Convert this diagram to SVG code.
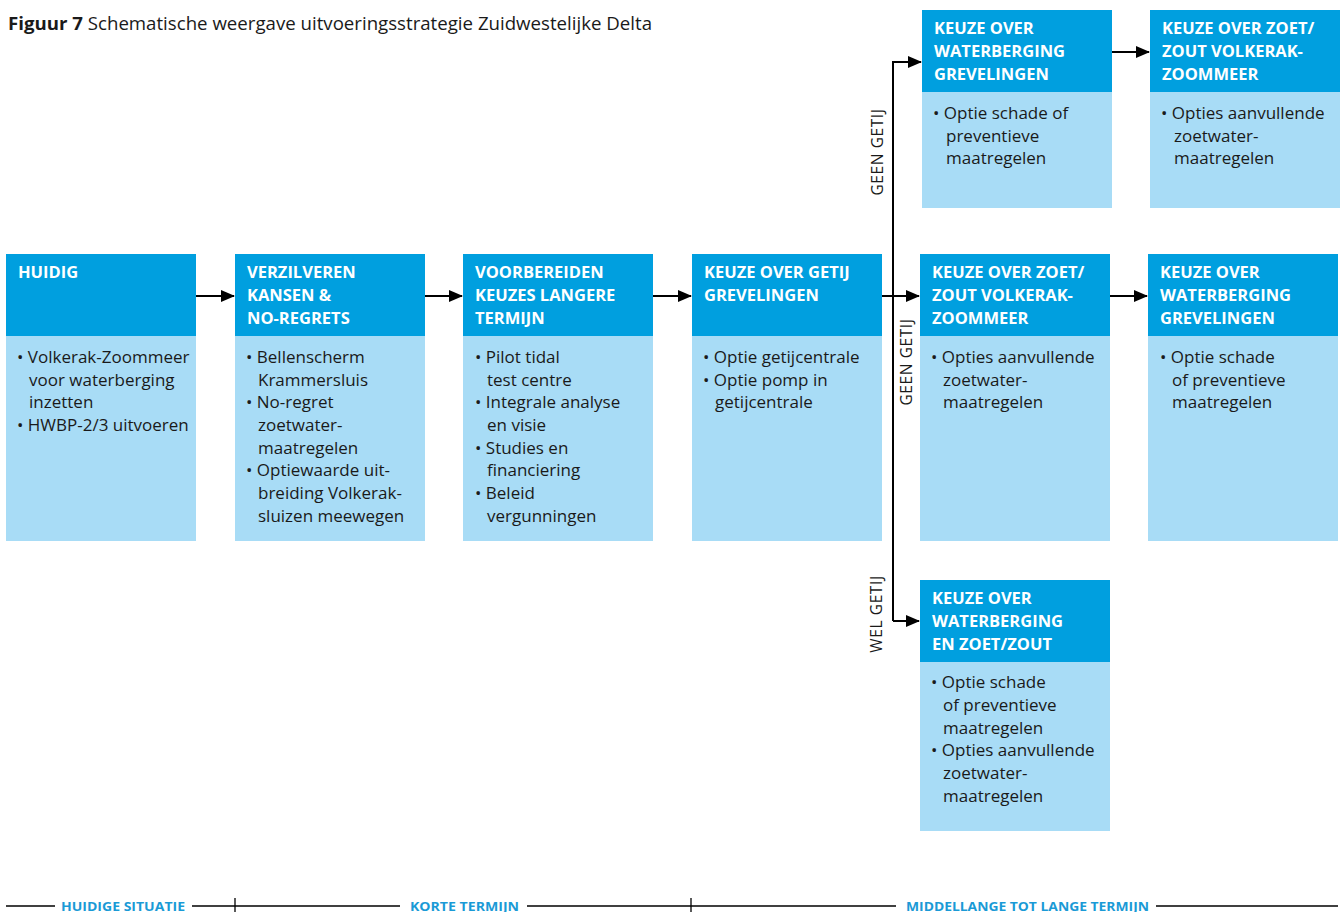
<svg xmlns="http://www.w3.org/2000/svg" width="1343" height="912" viewBox="0 0 1343 912">
<style>
.hd{fill:#009fdf}
.bd{fill:#a8dcf6}
.ht{font-family:"Open Sans","Noto Sans",sans-serif;font-weight:700;font-size:16.5px;fill:#ffffff}
.bt{font-family:"Open Sans","Noto Sans",sans-serif;font-size:17px;fill:#1a1a1a}
.title{font-family:"Open Sans","Noto Sans",sans-serif;font-size:18px;fill:#1a1a1a}
.lbl{font-family:"Open Sans","Noto Sans",sans-serif;font-size:15.5px;fill:#1a1a1a;letter-spacing:0.6px}
.tl{font-family:"Open Sans","Noto Sans",sans-serif;font-weight:700;font-size:13px;fill:#1a9ad6}
.ln{stroke:#000;stroke-width:2;fill:none}
.tln{stroke:#000;stroke-width:1.3;fill:none}
</style>
<defs>
<marker id="ah" markerWidth="14" markerHeight="12" refX="13" refY="6" orient="auto" markerUnits="userSpaceOnUse">
<path d="M0,0 L14,6 L0,12 Z" fill="#000"/>
</marker>
</defs>
<rect width="1343" height="912" fill="#fff"/>
<text class="title" x="8" y="30" textLength="644" lengthAdjust="spacingAndGlyphs"><tspan font-weight="700">Figuur 7</tspan> Schematische weergave uitvoeringsstrategie Zuidwestelijke Delta</text>

<g id="connectors">
<line class="ln" x1="196" y1="296" x2="234" y2="296" marker-end="url(#ah)"/>
<line class="ln" x1="425" y1="296" x2="462" y2="296" marker-end="url(#ah)"/>
<line class="ln" x1="653" y1="296" x2="691" y2="296" marker-end="url(#ah)"/>
<line class="ln" x1="882" y1="296" x2="919" y2="296" marker-end="url(#ah)"/>
<line class="ln" x1="1110" y1="296" x2="1147" y2="296" marker-end="url(#ah)"/>
<line class="ln" x1="1112" y1="52" x2="1149" y2="52" marker-end="url(#ah)"/>
<path class="ln" d="M893,621 L893,62 L921,62" marker-end="url(#ah)"/>
<path class="ln" d="M893,621 L919,621" marker-end="url(#ah)"/>
<text class="lbl" transform="translate(883,152) rotate(-90)" text-anchor="middle">GEEN GETIJ</text>
<text class="lbl" transform="translate(912,362) rotate(-90)" text-anchor="middle">GEEN GETIJ</text>
<text class="lbl" transform="translate(882,614) rotate(-90)" text-anchor="middle">WEL GETIJ</text>
</g>

<g id="huidig">
<rect class="hd" x="6" y="254" width="190" height="82"/>
<rect class="bd" x="6" y="336" width="190" height="205"/>
<text class="ht" x="18" y="278">HUIDIG</text>
<text class="bt"><tspan x="17" y="363">• Volkerak-Zoommeer</tspan><tspan x="29" y="386">voor waterberging</tspan><tspan x="29" y="408">inzetten</tspan><tspan x="17" y="431">• HWBP-2/3 uitvoeren</tspan></text>
</g>

<g id="verzilveren">
<rect class="hd" x="235" y="254" width="190" height="82"/>
<rect class="bd" x="235" y="336" width="190" height="205"/>
<text class="ht"><tspan x="247" y="278">VERZILVEREN</tspan><tspan x="247" y="301">KANSEN &amp;</tspan><tspan x="247" y="324">NO-REGRETS</tspan></text>
<text class="bt"><tspan x="246" y="363">• Bellenscherm</tspan><tspan x="258" y="386">Krammersluis</tspan><tspan x="246" y="408">• No-regret</tspan><tspan x="258" y="431">zoetwater-</tspan><tspan x="258" y="454">maatregelen</tspan><tspan x="246" y="476">• Optiewaarde uit-</tspan><tspan x="258" y="499">breiding Volkerak-</tspan><tspan x="258" y="522">sluizen meewegen</tspan></text>
</g>

<g id="voorbereiden">
<rect class="hd" x="463" y="254" width="190" height="82"/>
<rect class="bd" x="463" y="336" width="190" height="205"/>
<text class="ht"><tspan x="475" y="278">VOORBEREIDEN</tspan><tspan x="475" y="301">KEUZES LANGERE</tspan><tspan x="475" y="324">TERMIJN</tspan></text>
<text class="bt"><tspan x="475" y="363">• Pilot tidal</tspan><tspan x="487" y="386">test centre</tspan><tspan x="475" y="408">• Integrale analyse</tspan><tspan x="487" y="431">en visie</tspan><tspan x="475" y="454">• Studies en</tspan><tspan x="487" y="476">financiering</tspan><tspan x="475" y="499">• Beleid</tspan><tspan x="487" y="522">vergunningen</tspan></text>
</g>

<g id="keuze-getij">
<rect class="hd" x="692" y="254" width="190" height="82"/>
<rect class="bd" x="692" y="336" width="190" height="205"/>
<text class="ht"><tspan x="704" y="278">KEUZE OVER GETIJ</tspan><tspan x="704" y="301">GREVELINGEN</tspan></text>
<text class="bt"><tspan x="703" y="363">• Optie getijcentrale</tspan><tspan x="703" y="386">• Optie pomp in</tspan><tspan x="715" y="408">getijcentrale</tspan></text>
</g>

<g id="keuze-zoetzout-mid">
<rect class="hd" x="920" y="254" width="190" height="82"/>
<rect class="bd" x="920" y="336" width="190" height="205"/>
<text class="ht"><tspan x="932" y="278">KEUZE OVER ZOET/</tspan><tspan x="932" y="301">ZOUT VOLKERAK-</tspan><tspan x="932" y="324">ZOOMMEER</tspan></text>
<text class="bt"><tspan x="931" y="363">• Opties aanvullende</tspan><tspan x="943" y="386">zoetwater-</tspan><tspan x="943" y="408">maatregelen</tspan></text>
</g>

<g id="keuze-waterberging-mid">
<rect class="hd" x="1148" y="254" width="190" height="82"/>
<rect class="bd" x="1148" y="336" width="190" height="205"/>
<text class="ht"><tspan x="1160" y="278">KEUZE OVER</tspan><tspan x="1160" y="301">WATERBERGING</tspan><tspan x="1160" y="324">GREVELINGEN</tspan></text>
<text class="bt"><tspan x="1160" y="363">• Optie schade</tspan><tspan x="1172" y="386">of preventieve</tspan><tspan x="1172" y="408">maatregelen</tspan></text>
</g>

<g id="keuze-waterberging-top">
<rect class="hd" x="922" y="10" width="190" height="82"/>
<rect class="bd" x="922" y="92" width="190" height="116"/>
<text class="ht"><tspan x="934" y="34">KEUZE OVER</tspan><tspan x="934" y="57">WATERBERGING</tspan><tspan x="934" y="80">GREVELINGEN</tspan></text>
<text class="bt"><tspan x="933" y="119">• Optie schade of</tspan><tspan x="946" y="142">preventieve</tspan><tspan x="946" y="164">maatregelen</tspan></text>
</g>

<g id="keuze-zoetzout-top">
<rect class="hd" x="1150" y="10" width="190" height="82"/>
<rect class="bd" x="1150" y="92" width="190" height="116"/>
<text class="ht"><tspan x="1162" y="34">KEUZE OVER ZOET/</tspan><tspan x="1162" y="57">ZOUT VOLKERAK-</tspan><tspan x="1162" y="80">ZOOMMEER</tspan></text>
<text class="bt"><tspan x="1161" y="119">• Opties aanvullende</tspan><tspan x="1174" y="142">zoetwater-</tspan><tspan x="1174" y="164">maatregelen</tspan></text>
</g>

<g id="keuze-waterberging-zoetzout">
<rect class="hd" x="920" y="580" width="190" height="82"/>
<rect class="bd" x="920" y="662" width="190" height="169"/>
<text class="ht"><tspan x="932" y="604">KEUZE OVER</tspan><tspan x="932" y="627">WATERBERGING</tspan><tspan x="932" y="650">EN ZOET/ZOUT</tspan></text>
<text class="bt"><tspan x="931" y="688">• Optie schade</tspan><tspan x="943" y="711">of preventieve</tspan><tspan x="943" y="734">maatregelen</tspan><tspan x="931" y="756">• Opties aanvullende</tspan><tspan x="943" y="779">zoetwater-</tspan><tspan x="943" y="802">maatregelen</tspan></text>
</g>

<g id="timeline">
<line class="tln" x1="6" y1="906" x2="55" y2="906"/>
<line class="tln" x1="192" y1="906" x2="400" y2="906"/>
<line class="tln" x1="527" y1="906" x2="896" y2="906"/>
<line class="tln" x1="1156" y1="906" x2="1338" y2="906"/>
<line class="tln" x1="235" y1="898" x2="235" y2="912"/>
<line class="tln" x1="691" y1="898" x2="691" y2="912"/>
<text class="tl" x="61" y="910.5" textLength="124" lengthAdjust="spacingAndGlyphs">HUIDIGE SITUATIE</text>
<text class="tl" x="410" y="910.5" textLength="109" lengthAdjust="spacingAndGlyphs">KORTE TERMIJN</text>
<text class="tl" x="906" y="910.5" textLength="243" lengthAdjust="spacingAndGlyphs">MIDDELLANGE TOT LANGE TERMIJN</text>
</g>
</svg>
